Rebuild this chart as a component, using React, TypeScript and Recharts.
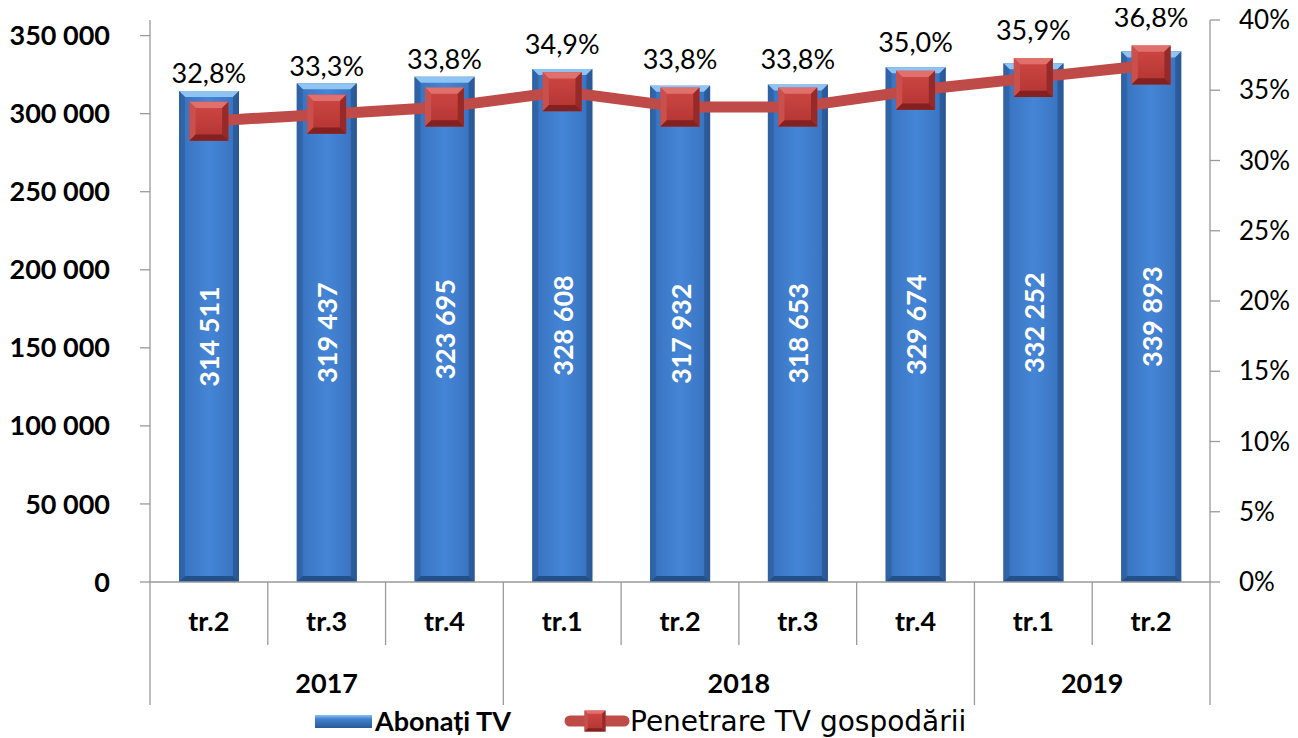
import React from "react";
import { ComposedChart, Bar, Line, XAxis, YAxis, Legend, LabelList } from "recharts";

const quarters = ["tr.2", "tr.3", "tr.4", "tr.1", "tr.2", "tr.3", "tr.4", "tr.1", "tr.2"];
const years = ["2017", "2017", "2017", "2018", "2018", "2018", "2018", "2019", "2019"];
const subscribers = [314511, 319437, 323695, 328608, 317932, 318653, 329674, 332252, 339893];
const penetration = [32.8, 33.3, 33.8, 34.9, 33.8, 33.8, 35.0, 35.9, 36.8];
const leftTicks = [0, 50000, 100000, 150000, 200000, 250000, 300000, 350000];
const rightTicks = [0, 5, 10, 15, 20, 25, 30, 35, 40];

const data = quarters.map((q, i) => ({
  id: `${years[i]} ${q}`,
  subscribers: subscribers[i],
  penetration: penetration[i],
}));

const W = 1290;
const H = 738;
const PLOT_LEFT = 142;
const PLOT_RIGHT = 1202;
const FONT = "Lato, 'Open Sans', sans-serif";
const AXIS_GRAY = "#9a9a9a";

const fmtThousands = (v: number) => String(v).replace(/\B(?=(\d{3})+(?!\d))/g, " ");
const fmtPct = (v: number) => v.toFixed(1).replace(".", ",") + "%";

const XTick = (props: any) => {
  const { x, y, index, payload } = props;
  const band = (PLOT_RIGHT - PLOT_LEFT) / quarters.length;
  const half = payload && payload.offset > 0 && payload.offset < band ? payload.offset : band / 2;
  const groupStart = index === 0 || years[index] !== years[index - 1];
  const count = years.filter((yr) => yr === years[index]).length;
  const isLast = index === quarters.length - 1;
  return (
    <g>
      <line x1={x - half} x2={x - half} y1={y} y2={y + (groupStart ? 123 : 63)} stroke={AXIS_GRAY} strokeWidth={1.3} />
      {isLast && <line x1={x + half} x2={x + half} y1={y} y2={y + 123} stroke={AXIS_GRAY} strokeWidth={1.3} />}
      <text x={x} y={y + 49} textAnchor="middle" fontFamily={FONT} fontWeight="bold" fontSize={27} fill="#000">
        {quarters[index]}
      </text>
      {groupStart && (
        <text x={x - half + count * half} y={y + 111} textAnchor="middle" fontFamily={FONT} fontWeight="bold" fontSize={27} fill="#000">
          {years[index]}
        </text>
      )}
    </g>
  );
};

const BarShape = (props: any) => {
  const { x, y, width, height } = props;
  if (!height || height <= 0) return null;
  const b = 6;
  return (
    <g>
      <rect x={x} y={y} width={width} height={height} fill="url(#barGrad)" />
      <polygon points={`${x},${y} ${x + width},${y} ${x + width - b},${y + b} ${x + b},${y + b}`} fill="#8ec3f2" />
      <polygon points={`${x},${y} ${x + b},${y + b} ${x + b},${y + height - b} ${x},${y + height}`} fill="#2f63a6" opacity={0.8} />
      <polygon points={`${x + width},${y} ${x + width - b},${y + b} ${x + width - b},${y + height - b} ${x + width},${y + height}`} fill="#2a5795" opacity={0.8} />
      <polygon points={`${x},${y + height} ${x + b},${y + height - b} ${x + width - b},${y + height - b} ${x + width},${y + height}`} fill="#24508a" />
    </g>
  );
};

const SquareMarker = ({ cx, cy, size }: { cx: number; cy: number; size: number }) => {
  const s = size / 2;
  const b = size * 0.16;
  const l = cx - s, r = cx + s, t = cy - s, bt = cy + s;
  return (
    <g>
      <rect x={l} y={t} width={size} height={size} fill="url(#markGrad)" />
      <polygon points={`${l},${t} ${r},${t} ${r - b},${t + b} ${l + b},${t + b}`} fill="#e0706c" />
      <polygon points={`${l},${t} ${l + b},${t + b} ${l + b},${bt - b} ${l},${bt}`} fill="#c9504c" />
      <polygon points={`${r},${t} ${r - b},${t + b} ${r - b},${bt - b} ${r},${bt}`} fill="#962a28" />
      <polygon points={`${l},${bt} ${l + b},${bt - b} ${r - b},${bt - b} ${r},${bt}`} fill="#82211f" />
    </g>
  );
};

const Dot = (props: any) => {
  const { cx, cy } = props;
  if (cx == null || cy == null) return null;
  return <SquareMarker cx={cx} cy={cy} size={39} />;
};

const BarLabel = (props: any) => {
  const { x, y, width, height, value } = props;
  const cx = x + width / 2;
  const cy = y + height / 2;
  return (
    <text
      x={cx}
      y={cy}
      transform={`rotate(-90 ${cx} ${cy})`}
      textAnchor="middle"
      dominantBaseline="central"
      fontFamily={FONT}
      fontWeight="bold"
      fontSize={27}
      fill="#fff"
    >
      {fmtThousands(value)}
    </text>
  );
};

const LineLabel = (props: any) => {
  const { x, y, value } = props;
  return (
    <text x={x} y={y - 38} textAnchor="middle" fontFamily={FONT} fontSize={27} fill="#000">
      {fmtPct(value)}
    </text>
  );
};

const LegendContent = () => (
  <svg width={W} height={36} style={{ display: "block" }}>
    <defs>
      <linearGradient id="legBar" x1="0" y1="0" x2="0" y2="1">
        <stop offset="0" stopColor="#8ec3f2" />
        <stop offset="0.3" stopColor="#4282d2" />
        <stop offset="1" stopColor="#2b5a96" />
      </linearGradient>
    </defs>
    <rect x={307} y={13} width={57} height={13} fill="url(#legBar)" />
    <text x={367} y={29} fontFamily={FONT} fontWeight="bold" fontSize={27} fill="#000">
      Abonați TV
    </text>
    <line x1={562} x2={616} y1={19} y2={19} stroke="#be4b48" strokeWidth={11} strokeLinecap="round" />
    <SquareMarker cx={587} cy={19} size={21} />
    <text x={622} y={29} fontFamily="'DejaVu Sans', sans-serif" fontSize={28} fill="#000">
      Penetrare TV gospodării
    </text>
  </svg>
);

export default function App() {
  return (
    <div style={{ marginTop: -8, width: W, height: H }}>
      <ComposedChart width={W} height={H} data={data} margin={{ top: 20, right: 0, bottom: 0, left: 0 }}>
        <defs>
          <linearGradient id="barGrad" x1="0" y1="0" x2="1" y2="0">
            <stop offset="0" stopColor="#2b5a96" />
            <stop offset="0.1" stopColor="#3a75c2" />
            <stop offset="0.5" stopColor="#4585d6" />
            <stop offset="0.9" stopColor="#3a75c2" />
            <stop offset="1" stopColor="#2b5a96" />
          </linearGradient>
          <linearGradient id="markGrad" x1="0" y1="0" x2="0" y2="1">
            <stop offset="0" stopColor="#cf4845" />
            <stop offset="1" stopColor="#b23431" />
          </linearGradient>
        </defs>
        <XAxis
          dataKey="id"
          xAxisId={0}
          height={120}
          interval={0}
          tickLine={false}
          tickSize={0}
          tickMargin={0}
          axisLine={{ stroke: AXIS_GRAY, strokeWidth: 1.3 }}
          tick={<XTick />}
        />
        <YAxis
          yAxisId="left"
          orientation="left"
          width={142}
          domain={[0, 360000]}
          ticks={leftTicks}
          interval={0}
          tickSize={10}
          tickMargin={30}
          tickFormatter={fmtThousands}
          axisLine={{ stroke: AXIS_GRAY, strokeWidth: 1.3 }}
          tickLine={{ stroke: AXIS_GRAY, strokeWidth: 1.3 }}
          tick={{ fontFamily: FONT, fontWeight: "bold", fontSize: 27, fill: "#000" }}
        />
        <YAxis
          yAxisId="right"
          orientation="right"
          width={88}
          domain={[0, 40]}
          ticks={rightTicks}
          interval={0}
          tickSize={10}
          tickMargin={19}
          tickFormatter={(v: number) => `${v}%`}
          axisLine={{ stroke: AXIS_GRAY, strokeWidth: 1.3 }}
          tickLine={{ stroke: AXIS_GRAY, strokeWidth: 1.3 }}
          tick={{ fontFamily: FONT, fontSize: 26, fill: "#000" }}
        />
        <Legend verticalAlign="bottom" height={36} content={<LegendContent />} />
        <Bar yAxisId="left" dataKey="subscribers" name="Abonați TV" barSize={60} shape={<BarShape />} isAnimationActive={false}>
          <LabelList dataKey="subscribers" content={<BarLabel />} />
        </Bar>
        <Line
          yAxisId="right"
          dataKey="penetration"
          name="Penetrare TV gospodării"
          type="linear"
          stroke="#be4b48"
          strokeWidth={11}
          dot={<Dot />}
          activeDot={false}
          isAnimationActive={false}
        >
          <LabelList dataKey="penetration" content={<LineLabel />} />
        </Line>
      </ComposedChart>
    </div>
  );
}
